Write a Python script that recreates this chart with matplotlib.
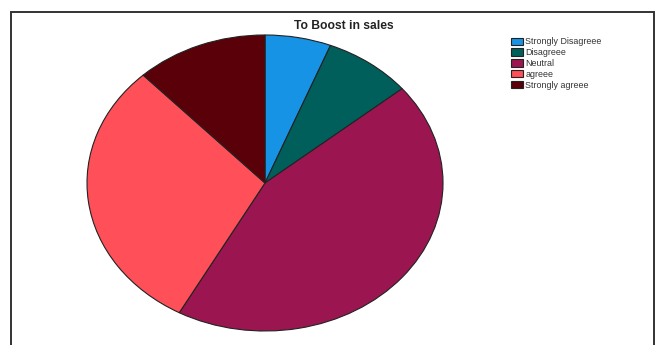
import matplotlib
matplotlib.use("Agg")
import matplotlib.pyplot as plt
from matplotlib.patches import Rectangle

plt.rcParams["font.family"] = ["Liberation Sans", "DejaVu Sans"]

categories = ["Strongly Disagreee", "Disagreee", "Neutral", "agreee", "Strongly agreee"]
values = [6, 8, 44, 30, 12]
colors = ["#1793E6", "#005F5A", "#9B1650", "#FF4F58", "#5A0008"]
title = "To Boost in sales"

W, H = 662, 345
fig = plt.figure(figsize=(W / 100, H / 100), dpi=100)

# border
fig.patches.append(Rectangle((11 / W, -0.05), (654 - 11) / W, 1.05 - 12 / H,
                             transform=fig.transFigure, fill=False,
                             edgecolor="#333333", linewidth=1.4))

ax = fig.add_axes([87 / W, 14 / H, 356 / W, 296 / H])
wedges, _ = ax.pie(values, colors=colors, startangle=90, counterclock=False,
                   radius=1.0, wedgeprops=dict(edgecolor="#222222", linewidth=0.8))
ax.set_aspect("auto")
ax.set_xlim(-1, 1)
ax.set_ylim(-1, 1)
ax.axis("off")

fig.text(344 / W, 1 - 26 / H, title, ha="center", va="center",
         fontsize=8.7, fontweight="bold", color="#222222")

fig.legend(wedges, categories, loc="upper left",
           bbox_to_anchor=(507 / W, 1 - 33 / H), frameon=False,
           fontsize=6.4, handlelength=1.25, handleheight=0.9,
           handletextpad=0.3, labelspacing=0.2, borderpad=0.0,
           labelcolor="#333333")

fig.savefig("out.png", dpi=100)
